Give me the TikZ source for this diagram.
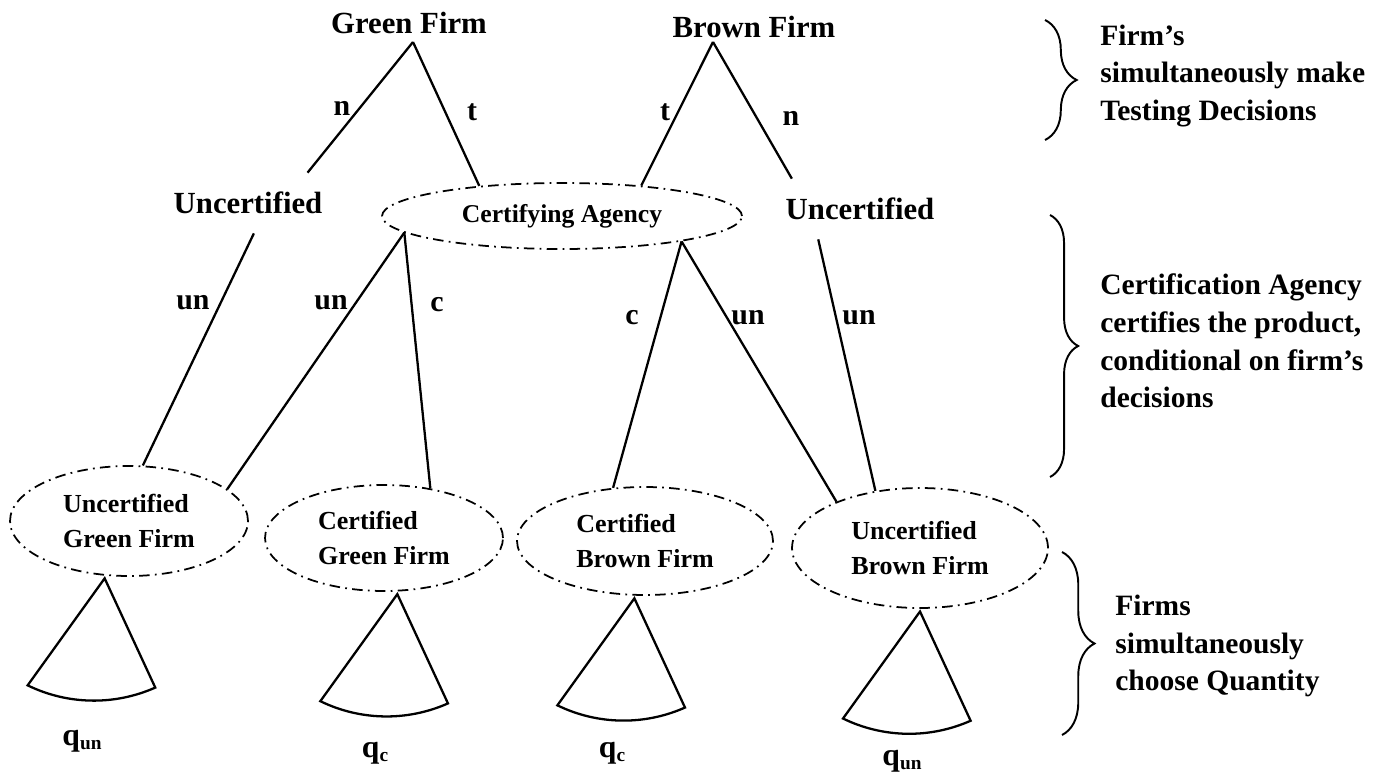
\documentclass[tikz,border=0pt]{standalone}
\usepackage{fontspec}
\setmainfont{Liberation Serif}
\usetikzlibrary{shapes.geometric, decorations.pathreplacing, calc}
\tikzset{
  firm/.style={font=\fontsize{17.5}{21}\selectfont\bfseries, inner sep=0pt},
  unc/.style={font=\fontsize{17.5}{21}\selectfont\bfseries,
    inner xsep=3pt, inner ysep=0pt, minimum height=1.2cm},
  chain/.style={dash pattern=on 6pt off 3pt on 1pt off 3pt, line width=1pt},
  agency/.style={ellipse, draw, chain, inner sep=0pt,
    font=\fontsize{14.6}{18}\selectfont\bfseries,
    minimum width=7.2cm, minimum height=1.32cm},
  outcome/.style={ellipse, draw, chain, inner sep=0pt, align=left,
    font=\fontsize{14.8}{19.5}\selectfont\bfseries,
    minimum width=4.76cm, minimum height=2.2cm},
  lab/.style={font=\fontsize{17}{20}\selectfont\bfseries, inner sep=0pt},
  qlab/.style={font=\fontsize{18}{20}\selectfont\bfseries, inner sep=0pt},
  stage/.style={align=left, anchor=west, inner sep=0pt,
    font=\fontsize{16.8}{21.5}\selectfont\bfseries},
  edge/.style={line width=1.3pt},
  phase/.style={decorate, decoration={brace, amplitude=#1}, line width=1.1pt},
}

\begin{document}
\begin{tikzpicture}[x=0.02cm, y=0.02cm]
  \useasboundingbox (0,0) rectangle (1381,-777);

  % first stage: the two firms
  \node[firm] (gfirm) at (409,-23) {Green Firm};
  \node[firm] (bfirm) at (754,-27) {Brown Firm};
  \coordinate (gtop) at (413,-42);
  \coordinate (btop) at (713,-42);

  \node[unc] (gunc) at (248,-203) {Uncertified};
  \node[unc] (bunc) at (860,-209) {Uncertified};
  \node[agency] (ca) at (562,-216) {Certifying Agency};

  % outcomes
  \node[outcome] (ugf) at (129,-521) {Uncertified\\Green Firm};
  \node[outcome, minimum height=2.12cm] (cgf) at (384,-538) {Certified\\Green Firm};
  \node[outcome, minimum width=5.12cm, minimum height=2.16cm] (cbf) at (645,-541) {Certified\\Brown Firm};
  \node[outcome, minimum width=5.12cm, minimum height=2.4cm] (ubf) at (920,-548) {Uncertified\\Brown Firm};

  \draw[edge] (gtop) -- (gunc.27);
  \draw[edge] (gtop) -- (ca.160);
  \draw[edge] (btop) -- (ca.21);
  \draw[edge] (btop) -- (bunc.156);

  \draw[edge] (gunc.281) -- (ugf.76);
  \draw[edge] (ca.186) -- (ugf.18);
  \draw[edge] (ca.186) -- (cgf.47);
  \draw[edge] (ca.348) -- (cbf.121);
  \draw[edge] (ca.348) -- (ubf.151);
  \draw[edge] (bunc.216) -- (ubf.128);

  % branch labels
  \node[lab] (ln1) at (342,-108) {n};
  \node[lab] (lt1) at (472,-112) {t};
  \node[lab] (lt2) at (665,-112) {t};
  \node[lab] (ln2) at (791,-118) {n};
  \node[lab] (lu1) at (193,-303) {un};
  \node[lab] (lu2) at (331,-303) {un};
  \node[lab] (lc1) at (437,-305) {c};
  \node[lab] (lc2) at (632,-318) {c};
  \node[lab] (lu3) at (748,-318) {un};
  \node[lab] (lu4) at (859,-318) {un};

  % quantity choice
  \foreach \e/\a/\qsub/\qx/\qy in {ugf/246/un/82/741, cgf/284/c/375/753, cbf/259/c/612/753, ubf/270/un/902/761} {
    \draw[edge] ([yshift=-1.5pt]\e.\a) -- ++(-77,-107) arc[start angle=244, end angle=294, radius=151] -- cycle;
    \node[qlab] (q\e) at (\qx,-\qy) {q\raisebox{-2.5pt}{\fontsize{11}{12}\selectfont\qsub}};
  }

  % stages
  \draw[phase=18pt] (1045,-20) -- (1045,-140);
  \draw[phase=16pt] (1050,-215) -- (1050,-477);
  \draw[phase=18.5pt] (1062,-552) -- (1062,-735);
  \node[stage] (st1) at (1100,-76) {Firm’s\\simultaneously make\\Testing Decisions};
  \node[stage] (st2) at (1100,-341) {Certification Agency\\certifies the product,\\conditional on firm’s\\decisions};
  \node[stage] (st3) at (1115,-646) {Firms\\simultaneously\\choose Quantity};
\end{tikzpicture}
\end{document}
